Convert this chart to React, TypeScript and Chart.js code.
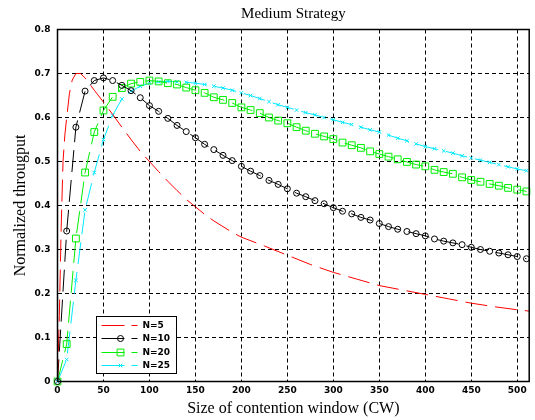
import React, { useEffect, useRef } from 'react';
import { Chart, registerables } from 'chart.js';

Chart.register(...registerables);

const TITLE = 'Medium Strategy';
const X_TITLE = 'Size of contention window (CW)';
const Y_TITLE = 'Normalized througput';

const seriesLabels = ['N=5', 'N=10', 'N=20', 'N=25'];
const seriesColors = ['#ff0000', '#000000', '#00ee00', '#00e8ff'];

const xTickLabels = ['0', '50', '100', '150', '200', '250', '300', '350', '400', '450', '500'];
const yTickLabels = ['0', '0.1', '0.2', '0.3', '0.4', '0.5', '0.6', '0.7', '0.8'];

// contention window values for marker series (0..510 step 10)
const cw = [
  0, 10, 20, 30, 40, 50, 60, 70, 80, 90,
  100, 110, 120, 130, 140, 150, 160, 170, 180, 190,
  200, 210, 220, 230, 240, 250, 260, 270, 280, 290,
  300, 310, 320, 330, 340, 350, 360, 370, 380, 390,
  400, 410, 420, 430, 440, 450, 460, 470, 480, 490,
  500, 510,
];

// contention window values for the N=5 curve
const cwN5 = [
  0, 2, 4, 6, 8, 10, 13, 16, 20, 25, 30,
  40, 50, 60, 70, 80, 90, 100, 110, 120, 130, 140, 150, 160, 170, 180, 190, 200,
  225, 250, 275, 300, 325, 350, 375, 400, 425, 450, 475, 500, 513,
];

const n5 = [
  0, 0.15, 0.35, 0.5, 0.56, 0.6, 0.655, 0.685, 0.7, 0.7, 0.69,
  0.662, 0.635, 0.607, 0.578, 0.55, 0.523, 0.5, 0.477, 0.455, 0.434, 0.414, 0.397, 0.38, 0.365, 0.352, 0.339, 0.328,
  0.308, 0.287, 0.266, 0.248, 0.233, 0.218, 0.208, 0.198, 0.188, 0.178, 0.17, 0.163, 0.16,
];

const n10 = [
  0, 0.342, 0.578, 0.66, 0.684, 0.69, 0.684, 0.673, 0.661, 0.645,
  0.627, 0.614, 0.598, 0.582, 0.568, 0.554, 0.539, 0.527, 0.514, 0.502,
  0.489, 0.478, 0.468, 0.457, 0.448, 0.438, 0.428, 0.42, 0.411, 0.404,
  0.395, 0.387, 0.381, 0.373, 0.367, 0.359, 0.352, 0.346, 0.341, 0.336,
  0.331, 0.324, 0.319, 0.315, 0.311, 0.305, 0.3, 0.296, 0.292, 0.288,
  0.284, 0.279,
];

const n20 = [
  0, 0.085, 0.325, 0.475, 0.567, 0.616, 0.647, 0.667, 0.677, 0.681,
  0.684, 0.682, 0.678, 0.675, 0.668, 0.662, 0.656, 0.646, 0.64, 0.633,
  0.623, 0.617, 0.61, 0.6, 0.593, 0.587, 0.578, 0.57, 0.563, 0.557,
  0.551, 0.543, 0.537, 0.531, 0.523, 0.517, 0.511, 0.505, 0.499, 0.493,
  0.489, 0.481, 0.476, 0.472, 0.464, 0.458, 0.454, 0.449, 0.445, 0.44,
  0.436, 0.432,
];

const n25 = [
  0, 0.05, 0.23, 0.39, 0.475, 0.55, 0.605, 0.642, 0.66, 0.671,
  0.678, 0.681, 0.682, 0.681, 0.68, 0.678, 0.675, 0.671, 0.667, 0.662,
  0.656, 0.65, 0.643, 0.636, 0.629, 0.623, 0.617, 0.611, 0.606, 0.6,
  0.595, 0.589, 0.584, 0.578, 0.572, 0.567, 0.56, 0.553, 0.547, 0.54,
  0.534, 0.529, 0.524, 0.519, 0.513, 0.508, 0.503, 0.498, 0.493, 0.488,
  0.483, 0.479,
];

const toPoints = (xs: number[], ys: number[]) => xs.map((x, i) => ({ x, y: ys[i] }));

const TICK_FONT = { family: '"DejaVu Sans", sans-serif', size: 9, weight: 'bold' as const };
const SERIF = '"Liberation Serif", "Times New Roman", serif';
const DASH = [22, 8];

function drawMarker(ctx: CanvasRenderingContext2D, style: string, x: number, y: number, r: number, color: string) {
  ctx.save();
  ctx.setLineDash([]);
  ctx.strokeStyle = color;
  ctx.lineWidth = 1;
  ctx.beginPath();
  if (style === 'circle') {
    ctx.arc(x, y, r, 0, Math.PI * 2);
  } else if (style === 'rect') {
    const s = r * Math.SQRT1_2;
    ctx.rect(x - s, y - s, 2 * s, 2 * s);
  } else if (style === 'crossRot') {
    const s = r * Math.SQRT1_2;
    ctx.moveTo(x - s, y - s);
    ctx.lineTo(x + s, y + s);
    ctx.moveTo(x - s, y + s);
    ctx.lineTo(x + s, y - s);
  }
  ctx.stroke();
  ctx.restore();
}

const framePlugin = {
  id: 'frameAndLegend',
  afterDatasetsDraw(chart: any) {
    const { ctx, chartArea } = chart;
    const { left, top, right, bottom } = chartArea;
    ctx.save();
    ctx.setLineDash([]);
    ctx.strokeStyle = '#000';
    ctx.lineWidth = 1.5;
    ctx.strokeRect(left, top, right - left, bottom - top);

    // legend box (inside plot, lower-left)
    const bx = Math.round(left + 38) + 0.5;
    const by = Math.round(bottom - 66) + 0.5;
    const bw = 80;
    const bh = 57;
    ctx.fillStyle = '#fff';
    ctx.fillRect(bx, by, bw, bh);
    ctx.lineWidth = 1;
    ctx.strokeStyle = '#000';
    ctx.strokeRect(bx, by, bw, bh);

    chart.data.datasets.forEach((ds: any, i: number) => {
      const y = Math.round(by + 8 + i * 13.6) + 0.5;
      const color = ds.borderColor;
      ctx.strokeStyle = color;
      ctx.lineWidth = 1;
      ctx.beginPath();
      ctx.moveTo(bx + 5, y);
      ctx.lineTo(bx + 28, y);
      ctx.moveTo(bx + 35, y);
      ctx.lineTo(bx + 41, y);
      ctx.stroke();
      if (ds.pointRadius > 0) {
        drawMarker(ctx, ds.pointStyle, bx + 24, y, ds.pointRadius, color);
      }
      ctx.fillStyle = '#000';
      ctx.font = 'bold 9px "DejaVu Sans", sans-serif';
      ctx.textAlign = 'left';
      ctx.textBaseline = 'middle';
      ctx.fillText(ds.label, bx + 46, y);
    });
    ctx.restore();
  },
};

export default function App() {
  const canvasRef = useRef<HTMLCanvasElement | null>(null);

  useEffect(() => {
    if (!canvasRef.current) return;
    const common = {
      borderWidth: 1,
      borderDash: DASH,
      tension: 0,
      clip: 8,
      fill: false,
      pointBackgroundColor: 'rgba(0,0,0,0)',
      pointBorderWidth: 1,
    };
    const chart = new Chart(canvasRef.current, {
      type: 'line',
      data: {
        datasets: [
          {
            ...common,
            label: seriesLabels[0],
            data: toPoints(cwN5, n5),
            borderColor: seriesColors[0],
            pointRadius: 0,
            pointStyle: 'circle',
          },
          {
            ...common,
            label: seriesLabels[1],
            data: toPoints(cw, n10),
            borderColor: seriesColors[1],
            pointBorderColor: seriesColors[1],
            pointRadius: 3,
            pointStyle: 'circle',
          },
          {
            ...common,
            label: seriesLabels[2],
            data: toPoints(cw, n20),
            borderColor: seriesColors[2],
            pointBorderColor: seriesColors[2],
            pointRadius: 4.8,
            pointStyle: 'rect',
          },
          {
            ...common,
            label: seriesLabels[3],
            data: toPoints(cw, n25),
            borderColor: seriesColors[3],
            pointBorderColor: seriesColors[3],
            pointRadius: 2.5,
            pointStyle: 'crossRot',
          },
        ] as any,
      },
      options: {
        responsive: false,
        animation: false,
        devicePixelRatio: 1,
        events: [],
        layout: { padding: { left: 0, right: 3.5, top: 0, bottom: 0 } },
        plugins: {
          legend: { display: false },
          tooltip: { enabled: false },
          title: {
            display: true,
            text: TITLE,
            color: '#000',
            fullSize: false,
            font: { family: SERIF, size: 15, weight: 'normal', lineHeight: 1.2 },
            padding: { top: 5, bottom: 6.5 },
          },
        },
        scales: {
          x: {
            type: 'linear',
            min: 0,
            max: 513,
            afterFit: (s: any) => {
              s.height = 38.5;
            },
            ticks: {
              stepSize: 50,
              includeBounds: false,
              autoSkip: false,
              maxRotation: 0,
              padding: 4,
              color: '#000',
              font: TICK_FONT,
              callback: (v: any) => xTickLabels[Math.round(Number(v) / 50)] ?? '',
            },
            grid: { color: '#000', lineWidth: 1, drawTicks: false },
            border: { display: false, dash: [4, 3] },
            title: {
              display: true,
              text: X_TITLE,
              color: '#000',
              font: { family: SERIF, size: 16, weight: 'normal', lineHeight: 1.2 },
              padding: { top: 0, bottom: 2 },
            },
          },
          y: {
            type: 'linear',
            min: 0,
            max: 0.8,
            afterFit: (s: any) => {
              s.width = 57.5;
            },
            ticks: {
              stepSize: 0.1,
              autoSkip: false,
              padding: 7,
              color: '#000',
              font: TICK_FONT,
              callback: (v: any) => yTickLabels[Math.round(Number(v) * 10)] ?? '',
            },
            grid: { color: '#000', lineWidth: 1, drawTicks: false },
            border: { display: false, dash: [4, 3] },
            title: {
              display: true,
              text: Y_TITLE,
              color: '#000',
              font: { family: SERIF, size: 16, weight: 'normal', lineHeight: 1.2 },
              padding: { top: 11.4, bottom: 0 },
            },
          },
        },
      } as any,
      plugins: [framePlugin],
    });
    return () => chart.destroy();
  }, []);

  return (
    <div style={{ position: 'absolute', left: 0, top: 0, width: 535, height: 420, background: '#fff' }}>
      <canvas ref={canvasRef} width={535} height={420} style={{ display: 'block', width: 535, height: 420 }} />
    </div>
  );
}
